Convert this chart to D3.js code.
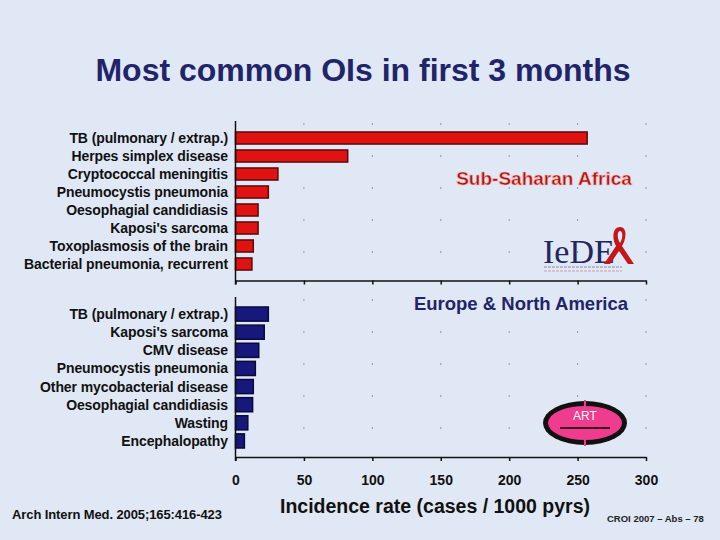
<!DOCTYPE html>
<html>
<head>
<meta charset="utf-8">
<script src="https://cdn.jsdelivr.net/npm/d3@7"></script>
<style>
  body { margin: 0; background: #dfe8f4; }
  svg { display: block; }
  text { font-family: "Liberation Sans", Arial, sans-serif; font-weight: bold; }
</style>
</head>
<body>
<script>
'use strict'
// Sub-Saharan Africa
const africaLabels = ["TB (pulmonary / extrap.)", "Herpes simplex disease", "Cryptococcal meningitis",
    "Pneumocystis pneumonia", "Oesophagial candidiasis", "Kaposi's sarcoma",
    "Toxoplasmosis of the brain", "Bacterial pneumonia, recurrent"];
const africaValues = [257, 82, 31, 24, 16.5, 16.5, 13, 12];

// Europe & North America
const euroLabels = ["TB (pulmonary / extrap.)", "Kaposi's sarcoma", "CMV disease",
    "Pneumocystis pneumonia", "Other mycobacterial disease", "Oesophagial candidiasis",
    "Wasting", "Encephalopathy"];
const euroValues = [24, 21, 17, 14.5, 13, 12.5, 9, 6.5];

const xTicks = [0, 50, 100, 150, 200, 250, 300];

const width = 720, height = 540;
const svg = d3.select("body").append("svg")
    .attr("width", width)
    .attr("height", height);

svg.append("text")
    .attr("x", 363).attr("y", 81)
    .attr("text-anchor", "middle")
    .attr("font-size", 32)
    .attr("fill", "#22246a")
    .text("Most common OIs in first 3 months");

const x = d3.scaleLinear().domain([0, 300]).range([235.5, 646]);

function panel(labels, values, top, bottom, axisY, fill, stroke, pad) {
    const g = svg.append("g");
    const y = d3.scaleBand().domain(labels).range([top, bottom]).paddingInner(pad).paddingOuter(pad / 2);

    // dotted grid
    g.selectAll("line.grid")
        .data(xTicks.slice(1))
        .enter().append("line")
        .attr("class", "grid")
        .attr("x1", d => x(d)).attr("x2", d => x(d))
        .attr("y1", top - 6).attr("y2", axisY)
        .attr("stroke", "#8f98a8")
        .attr("stroke-width", 1)
        .attr("stroke-dasharray", "2,30");

    g.selectAll("rect")
        .data(values)
        .enter().append("rect")
        .attr("x", x(0))
        .attr("y", (d, i) => y(labels[i]))
        .attr("width", d => x(d) - x(0))
        .attr("height", y.bandwidth())
        .attr("fill", fill)
        .attr("stroke", stroke)
        .attr("stroke-width", 1.5);

    g.selectAll("text.cat")
        .data(labels)
        .enter().append("text")
        .attr("class", "cat")
        .attr("x", 228)
        .attr("y", d => y(d) + y.bandwidth() / 2 + 5)
        .attr("text-anchor", "end")
        .attr("font-size", 14)
        .attr("letter-spacing", -0.1)
        .attr("fill", "#111")
        .text(d => d);

    g.append("line")
        .attr("x1", x(0)).attr("x2", x(0))
        .attr("y1", top - 8).attr("y2", axisY + 4)
        .attr("stroke", "#111").attr("stroke-width", 1.5);
    return y;
}

panel(africaLabels, africaValues, 129, 273, 280.5, "#e01212", "#5c0a0a", 0.33);
panel(euroLabels, euroValues, 305, 450, 457, "#17177c", "#0a0a3c", 0.22);

const axTop = svg.append("g")
    .attr("transform", "translate(0,280.5)")
    .call(d3.axisBottom(x).tickValues(xTicks).tickSize(4).tickSizeOuter(0).tickFormat(""));
const axBot = svg.append("g")
    .attr("transform", "translate(0,457)")
    .call(d3.axisBottom(x).tickValues(xTicks).tickSize(4).tickSizeOuter(0).tickPadding(14));
[axTop, axBot].forEach(a => {
    a.select(".domain").attr("stroke", "#111").attr("stroke-width", 1.5);
    a.selectAll(".tick line").attr("stroke", "#111").attr("stroke-width", 1.5);
});
axBot.selectAll(".tick text")
    .attr("font-size", 14)
    .attr("font-family", "Liberation Sans, Arial, sans-serif")
    .attr("font-weight", "bold")
    .attr("fill", "#111");

svg.append("text")
    .attr("x", 435).attr("y", 513)
    .attr("text-anchor", "middle")
    .attr("font-size", 19.5)
    .attr("fill", "#111")
    .text("Incidence rate (cases / 1000 pyrs)");

svg.append("text")
    .attr("x", 544).attr("y", 185)
    .attr("text-anchor", "middle")
    .attr("font-size", 19)
    .attr("fill", "#b01010")
    .attr("stroke", "#f4b0a8").attr("stroke-width", 0.6)
    .text("Sub-Saharan Africa");

svg.append("text")
    .attr("x", 521).attr("y", 310)
    .attr("text-anchor", "middle")
    .attr("font-size", 18.5)
    .attr("fill", "#22246a")
    .text("Europe & North America");

// IeDEA logo
const logo = svg.append("g");
logo.append("text")
    .attr("x", 543).attr("y", 263)
    .style("font-family", "'Liberation Serif', serif")
    .style("font-weight", "normal")
    .attr("font-size", 34)
    .attr("fill", "#23265e")
    .text("IeDE");
logo.append("path")
    .attr("d", "M620,227 C612,227 612,240 616,246 L604,264 L610,264 L619,251 L628,264 L634,264 L622,246 C626,240 628,227 620,227 Z M620,231 C623,231 623,238 620,243 C617,238 617,231 620,231 Z")
    .attr("fill", "#c41818").attr("fill-rule", "evenodd");
logo.append("line").attr("x1", 544).attr("x2", 622).attr("y1", 267).attr("y2", 267)
    .attr("stroke", "#8b8fb0").attr("stroke-width", 1.2).attr("stroke-dasharray", "3,1");
logo.append("line").attr("x1", 544).attr("x2", 622).attr("y1", 271).attr("y2", 271)
    .attr("stroke", "#d99aa6").attr("stroke-width", 1.2).attr("stroke-dasharray", "3,1");

// ART logo
const art = svg.append("g");
art.append("ellipse").attr("cx", 585).attr("cy", 423).attr("rx", 42).attr("ry", 22).attr("fill", "#111");
art.append("ellipse").attr("cx", 585).attr("cy", 423).attr("rx", 37).attr("ry", 17).attr("fill", "#ef3c8e");
art.append("line").attr("x1", 585).attr("x2", 585).attr("y1", 400).attr("y2", 446)
    .attr("stroke", "#ef3c8e").attr("stroke-width", 2);
art.append("line").attr("x1", 560).attr("x2", 610).attr("y1", 428).attr("y2", 428)
    .attr("stroke", "#3a0a20").attr("stroke-width", 2);
art.append("text").attr("x", 585).attr("y", 420).attr("text-anchor", "middle")
    .attr("font-size", 12).style("font-weight", "normal").attr("fill", "#fff").text("ART");

svg.append("text")
    .attr("x", 12).attr("y", 519)
    .attr("font-size", 13)
    .attr("letter-spacing", -0.1)
    .attr("fill", "#111")
    .text("Arch Intern Med. 2005;165:416-423");

svg.append("text")
    .attr("x", 607).attr("y", 522)
    .attr("font-size", 9.5)
    .attr("fill", "#222")
    .text("CROI 2007 \u2013 Abs \u2013 78");
</script>
</body>
</html>
